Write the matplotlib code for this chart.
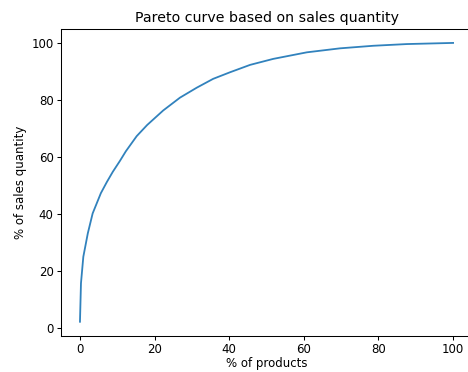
import numpy as np
import matplotlib
matplotlib.use("Agg")
import matplotlib.pyplot as plt

# cumulative share of products vs cumulative share of sales quantity
pct_products = [0, 0.27, 0.9, 2.1, 3.4, 5.6, 7.2, 8.8, 10.7, 12.3, 15.2, 18, 22.3, 26.8,
                31.3, 35.7, 40.2, 45.6, 51.8, 60.8, 69.7, 78.6, 87.6, 100]
pct_sales = [2.2, 15.7, 25, 33.2, 40.2, 47.3, 51.2, 54.8, 58.6, 62, 67.3, 71.2, 76.3, 80.8,
             84.3, 87.4, 89.7, 92.3, 94.4, 96.7, 98.1, 99.0, 99.6, 100]

plt.rcParams["font.size"] = 8.5
fig = plt.figure(figsize=(4.68, 3.72), dpi=100)
ax = fig.add_axes([0.131, 0.0976, 0.877, 0.8245])
ax.plot(pct_products, pct_sales, color="#3182bd", linewidth=1.3)
ax.set_title("Pareto curve based on sales quantity", fontsize=10.2, pad=5)
ax.set_xlabel("% of products", labelpad=0.5)
ax.set_ylabel("% of sales quantity", labelpad=3)
ax.set_xticks([0, 20, 40, 60, 80, 100])
ax.set_yticks([0, 20, 40, 60, 80, 100])
for s in ax.spines.values():
    s.set_linewidth(0.75)
ax.tick_params(width=0.75, length=2.6, pad=3)

fig.savefig("out.png", dpi=100)
